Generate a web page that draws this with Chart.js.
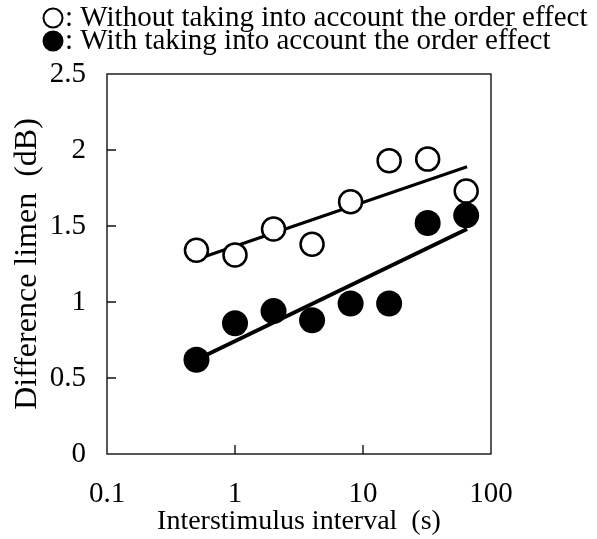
<!DOCTYPE html>
<html>
<head>
<meta charset="utf-8">
<script src="https://cdn.jsdelivr.net/npm/chart.js@4/dist/chart.umd.min.js"></script>
<style>
html,body{margin:0;padding:0;background:#fff;}
#wrap{width:597px;height:539px;position:relative;}
</style>
</head>
<body>
<div id="wrap"><canvas id="c" width="597" height="539"></canvas></div>
<script>
// ---- data ----
const intervals = [0.5, 1, 2, 4, 8, 16, 32, 64];
const withoutOrderEffect = [1.34, 1.31, 1.48, 1.38, 1.66, 1.93, 1.94, 1.73];
const withOrderEffect = [0.62, 0.86, 0.94, 0.88, 0.99, 0.99, 1.52, 1.57];
const withoutFitX = [0.46, 65];
const withoutFitY = [1.27, 1.89];
const withFitX = [0.5, 65];
const withFitY = [0.62, 1.48];
const xTickValues = [0.1, 1, 10, 100];
const yTickValues = [0, 0.5, 1, 1.5, 2, 2.5];
const legendLabels = [': Without taking into account the order effect', ': With taking into account the order effect'];
const xTitle = 'Interstimulus interval  (s)';
const yTitle = 'Difference limen  (dB)';

const FONT = "'Liberation Serif', 'Times New Roman', serif";
const toPts = (xs, ys) => xs.map((x, i) => ({x: x, y: ys[i]}));

const framePlugin = {
  id: 'frameTicks',
  afterDraw(chart) {
    const {ctx, chartArea: a, scales} = chart;
    ctx.save();
    ctx.strokeStyle = '#111';
    ctx.lineWidth = 1.4;
    ctx.strokeRect(a.left, a.top, a.right - a.left, a.bottom - a.top);
    ctx.beginPath();
    yTickValues.forEach(v => {
      if (v === scales.y.min || v === scales.y.max) return;
      const p = scales.y.getPixelForValue(v);
      ctx.moveTo(a.left, p); ctx.lineTo(a.left + 9, p);
    });
    xTickValues.forEach(v => {
      if (v === scales.x.min || v === scales.x.max) return;
      const p = scales.x.getPixelForValue(v);
      ctx.moveTo(p, a.bottom); ctx.lineTo(p, a.bottom - 9);
    });
    ctx.stroke();
    ctx.restore();
  }
};

const legendPlugin = {
  id: 'topLegend',
  afterDraw(chart) {
    const {ctx} = chart;
    const rows = [
      {ds: chart.data.datasets[1], y: 18},
      {ds: chart.data.datasets[0], y: 41}
    ];
    ctx.save();
    rows.forEach((r, i) => {
      ctx.beginPath();
      ctx.arc(53, r.y, 9.5, 0, Math.PI * 2);
      ctx.fillStyle = r.ds.pointBackgroundColor;
      ctx.fill();
      ctx.lineWidth = 2;
      ctx.strokeStyle = '#000';
      ctx.stroke();
      ctx.fillStyle = '#000';
      ctx.font = '29px ' + FONT;
      ctx.textBaseline = 'middle';
      ctx.textAlign = 'left';
      ctx.fillText(legendLabels[i], 65, r.y);
    });
    ctx.restore();
  }
};

new Chart(document.getElementById('c'), {
  type: 'scatter',
  data: {
    datasets: [
      {
        label: legendLabels[1],
        data: toPts(intervals, withOrderEffect),
        pointRadius: 13,
        pointBackgroundColor: '#000',
        pointBorderColor: '#000',
        pointBorderWidth: 0,
        showLine: false
      },
      {
        label: legendLabels[0],
        data: toPts(intervals, withoutOrderEffect),
        pointRadius: 11.5,
        pointBackgroundColor: '#fff',
        pointBorderColor: '#000',
        pointBorderWidth: 2.5,
        showLine: false
      },
      {
        label: 'fit without',
        data: toPts(withoutFitX, withoutFitY),
        showLine: true,
        borderColor: '#000',
        borderWidth: 3,
        pointRadius: 0
      },
      {
        label: 'fit with',
        data: toPts(withFitX, withFitY),
        showLine: true,
        borderColor: '#000',
        borderWidth: 4,
        pointRadius: 0
      }
    ]
  },
  options: {
    responsive: false,
    animation: false,
    devicePixelRatio: 1,
    events: [],
    layout: {padding: {top: 74, right: 106, left: 0, bottom: 0}},
    plugins: {legend: {display: false}, tooltip: {enabled: false}},
    scales: {
      x: {
        type: 'logarithmic',
        min: 0.1,
        max: 100,
        afterBuildTicks: s => { s.ticks = xTickValues.map(v => ({value: v})); },
        afterFit: s => { s.height = 85; },
        grid: {display: false, drawTicks: false},
        border: {display: false},
        ticks: {
          color: '#000',
          font: {family: FONT, size: 29},
          padding: 23,
          maxRotation: 0,
          autoSkip: false,
          callback: v => String(v)
        },
        title: {
          display: true,
          text: xTitle,
          color: '#000',
          font: {family: FONT, size: 28},
          padding: {top: 0, bottom: 1}
        }
      },
      y: {
        type: 'linear',
        min: 0,
        max: 2.5,
        afterBuildTicks: s => { s.ticks = yTickValues.map(v => ({value: v})); },
        afterFit: s => { s.width = 107; },
        grid: {display: false, drawTicks: false},
        border: {display: false},
        ticks: {
          color: '#000',
          font: {family: FONT, size: 29},
          padding: 21,
          callback: v => String(v)
        },
        title: {
          display: true,
          text: yTitle,
          color: '#000',
          font: {family: FONT, size: 32},
          padding: {top: 8, bottom: 0}
        }
      }
    }
  },
  plugins: [framePlugin, legendPlugin]
});
</script>
</body>
</html>
